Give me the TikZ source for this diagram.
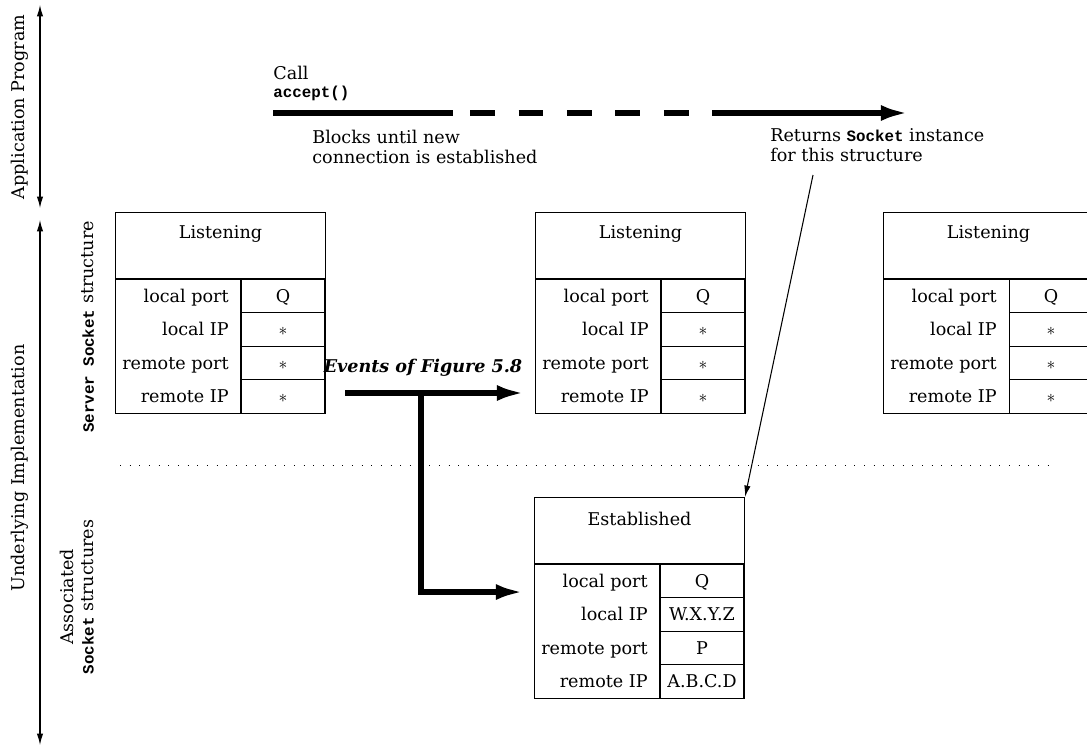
\documentclass[tikz,border=0pt]{standalone}
\usepackage{fontspec}
\setmainfont{DejaVu Serif}
\setmonofont{Liberation Mono}
\usetikzlibrary{arrows.meta,positioning,calc}

% one socket structure: name, top left corner, state, four values
\newcommand{\sockbox}[8]{%
  \node[statebox] (#1) at (#2,#3) {};
  \node[plain] (#1-st) at ($(#1.north)+(0,22)$) {#4};
  \node[fieldbox] (#1-f) at (#1.south west) {};
  \foreach \lab [count=\i] in {local port,local IP,remote port,remote IP}
    \node[fieldtext, anchor=east] (#1-l\i) at ($(#1-f.north west)+(114,{33.5*(\i-0.5)})$) {\lab};
  \foreach \fval [count=\i] in {#5,#6,#7,#8}
    \node[valbox] (#1-v\i) at ($(#1-f.north west)+(168,{33.5*(\i-0.5)})$) {\fval};
}

\begin{document}
\begin{tikzpicture}[x=0.02cm, y=-0.02cm,
  >={Latex[length=6.5pt,width=3.6pt]},
  plain/.style={inner sep=0pt, font=\fontsize{10}{11.5}\selectfont},
  fieldtext/.style={plain, text height=7.3pt, text depth=0pt},
  statebox/.style={draw, line width=0.6pt, anchor=north west, inner sep=0pt,
    minimum width=4.2cm, minimum height=1.32cm},
  fieldbox/.style={draw, line width=0.6pt, anchor=north west, inner sep=0pt,
    minimum width=4.2cm, minimum height=2.68cm},
  valbox/.style={draw, line width=0.6pt, inner sep=0pt, minimum width=1.68cm,
    minimum height=0.67cm, text height=7.3pt, text depth=0pt,
    font=\fontsize{10}{11.5}\selectfont},
  callline/.style={line width=3.2pt},
  bigarrow/.style={line width=3.2pt, -{Latex[length=16pt,width=9pt]}},
  sideaxis/.style={line width=0.6pt, <->},
  sidelabel/.style={plain, rotate=90, align=center},
  code/.style={font=\fontsize{9}{11}\selectfont\ttfamily\bfseries}]

  \useasboundingbox (0,0) rectangle (1087,747);
  \clip (0,0) rectangle (1087,747);

  % left side: the two layers
  \coordinate (apptop) at (40,5);
  \coordinate (appbot) at (40,208);
  \coordinate (impltop) at (40,220);
  \coordinate (implbot) at (40,745);
  \draw[sideaxis] (apptop) -- (appbot);
  \draw[sideaxis] (impltop) -- (implbot);
  \node[sidelabel] (applabel) at (20,107) {Application Program};
  \node[sidelabel] (impllabel) at (20,468) {Underlying Implementation};
  \node[sidelabel] (srvlabel) at (88,327)
    {{\fontsize{9}{11}\selectfont\ttfamily\bfseries Server Socket} structure};
  \node[sidelabel] (assoclabel) at (77,597)
    {Associated\\{\fontsize{9}{11}\selectfont\ttfamily\bfseries Socket} structures};

  % the accept() call
  \node[plain, anchor=west] (calltxt) at (273,73) {Call};
  \node[plain, anchor=west, code] (accepttxt) at (273,93) {accept()};
  \coordinate (cstart) at (273,113);
  \coordinate (c1) at (453,113);
  \coordinate (c2) at (470,113);
  \coordinate (c3) at (689,113);
  \coordinate (c4) at (712,113);
  \coordinate (cend) at (909,113);
  \draw[callline] (cstart) -- (c1);
  \draw[callline, dash pattern=on 0.5cm off 0.47cm] (c2) -- (c3);
  \draw[bigarrow] (c4) -- (cend);
  \node[plain, anchor=north west, align=left] (blocks) at (312,130)
    {Blocks until new\\connection is established};
  \node[plain, anchor=north west, align=left] (returns) at (770,128)
    {Returns {\fontsize{9}{11}\selectfont\ttfamily\bfseries Socket} instance\\for this structure};

  % socket structures
  \sockbox{lis1}{115}{212}{Listening}{Q}{$\ast$}{$\ast$}{$\ast$}
  \sockbox{lis2}{535}{212}{Listening}{Q}{$\ast$}{$\ast$}{$\ast$}
  \sockbox{lis3}{883}{212}{Listening}{Q}{$\ast$}{$\ast$}{$\ast$}
  \sockbox{est}{534}{497}{Established}{Q}{W.X.Y.Z}{P}{A.B.C.D}

  % border between server socket and associated sockets
  \coordinate (dotl) at (120,465);
  \coordinate (dotr) at (1055,465);
  \draw[line width=0.5pt, dash pattern=on 0.5pt off 5pt] (dotl) -- (dotr);

  % events of the handshake
  \node[plain, font=\fontsize{10}{12}\selectfont\bfseries\itshape] (events) at (423,368)
    {Events of Figure 5.8};
  \coordinate (evstart) at (345,393);
  \coordinate (evjoin) at (421,393);
  \draw[bigarrow] (evstart) -- ($(lis2-f.west |- evstart)+(-10,0)$);
  \draw[bigarrow, line join=miter] (evjoin) |- ($(est-f.north west)+(-10,28)$);

  % returned socket
  \coordinate (retfrom) at (813,175);
  \draw[line width=0.6pt, ->] (retfrom) -- (est.north east);
\end{tikzpicture}
\end{document}
